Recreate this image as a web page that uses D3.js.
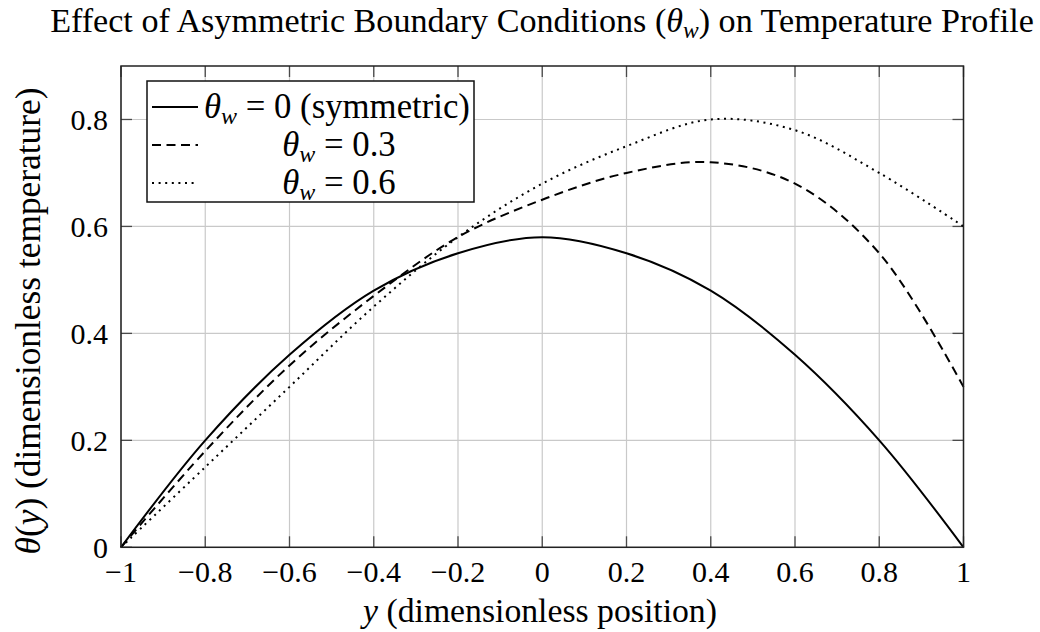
<!DOCTYPE html>
<html>
<head>
<meta charset="utf-8">
<script src="https://cdn.jsdelivr.net/npm/d3@7"></script>
<style>
  body { margin: 0; background: #fff; }
</style>
</head>
<body>
<div id="chart"></div>
<script>
// positions across the channel
const ys = [-1, -0.8, -0.6, -0.4, -0.2, 0, 0.2, 0.4, 0.6, 0.8, 1];
// theta(y) for each wall temperature
const symmetric = [0, 0.2, 0.36, 0.48, 0.55, 0.58, 0.55, 0.48, 0.36, 0.2, 0];
const tw03 = [0, 0.18, 0.34, 0.47, 0.58, 0.65, 0.70, 0.72, 0.68, 0.55, 0.30];
const tw06 = [0, 0.15, 0.30, 0.45, 0.58, 0.68, 0.75, 0.80, 0.78, 0.70, 0.60];

const xTicks = [-1, -0.8, -0.6, -0.4, -0.2, 0, 0.2, 0.4, 0.6, 0.8, 1];
const yTicks = [0, 0.2, 0.4, 0.6, 0.8];
const legendNames = ["0 (symmetric)", "0.3", "0.6"];

const W = 1040, H = 632;
const pL = 121, pR = 963.5, pT = 66, pB = 547.3;
const FONT = "'Liberation Serif', 'DejaVu Serif', serif";

const svg = d3.select("#chart").append("svg")
    .attr("width", W)
    .attr("height", H)
    .attr("font-family", FONT);

const x = d3.scaleLinear().domain([-1, 1]).range([pL, pR]);
const y = d3.scaleLinear().domain([0, 0.9]).range([pB, pT]);

const fmt = v => (v < 0 ? "\u2212" : "") + String(Math.abs(v));

// grid
const grid = svg.append("g").attr("stroke", "#c9c9c9").attr("stroke-width", 1.2);
xTicks.forEach(t => {
    grid.append("line").attr("x1", x(t)).attr("x2", x(t)).attr("y1", pT).attr("y2", pB);
});
yTicks.forEach(t => {
    grid.append("line").attr("x1", pL).attr("x2", pR).attr("y1", y(t)).attr("y2", y(t));
});

// inward ticks on every side
const tl = 11;
const ticks = svg.append("g").attr("stroke", "#4a4a4a").attr("stroke-width", 1.3);
xTicks.forEach(t => {
    ticks.append("line").attr("x1", x(t)).attr("x2", x(t)).attr("y1", pB).attr("y2", pB - tl);
    ticks.append("line").attr("x1", x(t)).attr("x2", x(t)).attr("y1", pT).attr("y2", pT + tl);
});
yTicks.forEach(t => {
    ticks.append("line").attr("x1", pL).attr("x2", pL + tl).attr("y1", y(t)).attr("y2", y(t));
    ticks.append("line").attr("x1", pR).attr("x2", pR - tl).attr("y1", y(t)).attr("y2", y(t));
});

// tick labels
svg.append("g").selectAll("text").data(xTicks).join("text")
    .attr("x", d => x(d))
    .attr("y", 582)
    .attr("text-anchor", "middle")
    .attr("font-family", FONT)
    .style("font-size", "30px")
    .text(d => fmt(d));

svg.append("g").selectAll("text").data(yTicks).join("text")
    .attr("x", 108)
    .attr("y", d => y(d))
    .attr("dy", "0.34em")
    .attr("text-anchor", "end")
    .attr("font-family", FONT)
    .style("font-size", "30px")
    .text(d => String(d));

// curves
const line = d3.line()
    .x((d, i) => x(ys[i]))
    .y(d => y(d))
    .curve(d3.curveCatmullRom);

const series = [
    { vals: symmetric, dash: null },
    { vals: tw03, dash: "9,5.5" },
    { vals: tw06, dash: "2,4.6" }
];

series.forEach(s => {
    svg.append("path")
        .datum(s.vals)
        .attr("d", line)
        .attr("fill", "none")
        .attr("stroke", "#000")
        .attr("stroke-width", 2)
        .attr("stroke-dasharray", s.dash);
});

// frame
svg.append("rect")
    .attr("x", pL).attr("y", pT)
    .attr("width", pR - pL).attr("height", pB - pT)
    .attr("fill", "none")
    .attr("stroke", "#222")
    .attr("stroke-width", 1.5);

// legend
const lg = svg.append("g");
lg.append("rect")
    .attr("x", 147).attr("y", 81)
    .attr("width", 327).attr("height", 121)
    .attr("fill", "#fff")
    .attr("stroke", "#111")
    .attr("stroke-width", 1.5);

const rowY = [107, 145, 183];
const legendTexts = [];
series.forEach((s, i) => {
    lg.append("line")
        .attr("x1", 152).attr("x2", 198)
        .attr("y1", rowY[i]).attr("y2", rowY[i])
        .attr("stroke", "#000")
        .attr("stroke-width", 2)
        .attr("stroke-dasharray", s.dash);
    const t = lg.append("text")
        .attr("y", rowY[i])
        .attr("dy", "0.32em")
        .attr("font-family", FONT)
        .style("font-size", "29px");
    if (i === 0) {
        t.attr("x", 204).attr("text-anchor", "start");
    } else {
        t.attr("x", 339).attr("text-anchor", "middle");
    }
    t.append("tspan").style("font-style", "italic").text("\u03b8");
    t.append("tspan").style("font-style", "italic").style("font-size", "20px").attr("dy", "6").text("w");
    t.append("tspan").attr("dy", "-6").text(" = " + legendNames[i]);
    legendTexts.push(t);
});

// title
const title = svg.append("text")
    .attr("x", 542).attr("y", 32)
    .attr("text-anchor", "middle")
    .attr("font-family", FONT)
    .style("font-size", "29px");
title.append("tspan").text("Effect of Asymmetric Boundary Conditions (");
title.append("tspan").style("font-style", "italic").text("\u03b8");
title.append("tspan").style("font-style", "italic").style("font-size", "20px").attr("dy", "6").text("w");
title.append("tspan").attr("dy", "-6").text(") on Temperature Profile");

// axis labels
const xl = svg.append("text")
    .attr("x", 540).attr("y", 622)
    .attr("text-anchor", "middle")
    .attr("font-family", FONT)
    .style("font-size", "29px");
xl.append("tspan").style("font-style", "italic").text("y");
xl.append("tspan").text(" (dimensionless position)");

const yl = svg.append("text")
    .attr("transform", "translate(40,321) rotate(-90)")
    .attr("text-anchor", "middle")
    .attr("font-family", FONT)
    .style("font-size", "29px");
yl.append("tspan").style("font-style", "italic").text("\u03b8");
yl.append("tspan").text("(");
yl.append("tspan").style("font-style", "italic").text("y");
yl.append("tspan").text(") (dimensionless temperature)");

// stretch the long labels to the widths they have in the reference
function scaleOf(sel, target) {
    const w = sel.node().getComputedTextLength();
    return Math.max(0.9, Math.min(1.25, target / w));
}
function applyScale(sel, k) {
    sel.style("font-size", (29 * k) + "px");
    sel.selectAll("tspan").filter(function () { return this.style.fontSize === "20px"; })
        .style("font-size", (20 * k) + "px");
}
applyScale(title, scaleOf(title, 984));
applyScale(xl, scaleOf(xl, 354));
applyScale(yl, scaleOf(yl, 467));
const lk = scaleOf(legendTexts[0], 266);
legendTexts.forEach(t => applyScale(t, lk));
</script>
</body>
</html>
